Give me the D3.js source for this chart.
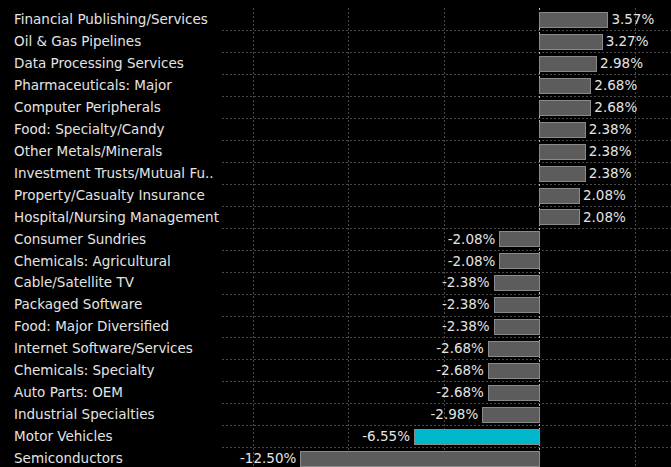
<!DOCTYPE html>
<html><head><meta charset="utf-8">
<script src="https://cdn.jsdelivr.net/npm/d3@7"></script>
<style>
html,body{margin:0;padding:0;background:#000;}
svg{display:block;}
text{font-family:"DejaVu Sans",sans-serif;}
</style></head>
<body>
<svg id="chart" width="671" height="467"></svg>
<script>
const categories = ["Financial Publishing/Services","Oil & Gas Pipelines","Data Processing Services","Pharmaceuticals: Major","Computer Peripherals","Food: Specialty/Candy","Other Metals/Minerals","Investment Trusts/Mutual Fu..","Property/Casualty Insurance","Hospital/Nursing Management","Consumer Sundries","Chemicals: Agricultural","Cable/Satellite TV","Packaged Software","Food: Major Diversified","Internet Software/Services","Chemicals: Specialty","Auto Parts: OEM","Industrial Specialties","Motor Vehicles","Semiconductors"];
const values = [3.57,3.27,2.98,2.68,2.68,2.38,2.38,2.38,2.08,2.08,-2.08,-2.08,-2.38,-2.38,-2.38,-2.68,-2.68,-2.68,-2.98,-6.55,-12.50];
const highlighted = ["Motor Vehicles"];
const xTicks = [-15,-10,-5,0,5];

const W = 671, H = 467;
const svg = d3.select("#chart");
svg.append("rect").attr("width",W).attr("height",H).attr("fill","#000");

const x = d3.scaleLinear().domain([-16.6, 6.9]).range([222, 671]);
const y = d3.scaleBand().domain(categories).range([8.5, 469]).paddingInner(0.33).paddingOuter(0.165);
const step = y.step();

// horizontal dashed gridlines between rows
svg.append("g").selectAll("line").data(categories.slice(1)).join("line")
  .attr("x1", x.range()[0]).attr("x2", W)
  .attr("y1", d => Math.round(y(d) - (step - y.bandwidth())/2) + 0.5)
  .attr("y2", d => Math.round(y(d) - (step - y.bandwidth())/2) + 0.5)
  .attr("stroke", "#4a4a4a").attr("stroke-width", 1).attr("stroke-dasharray", "2,2");

// vertical gridlines
svg.append("g").selectAll("line").data(xTicks).join("line")
  .attr("x1", d => Math.round(x(d)) + 0.5).attr("x2", d => Math.round(x(d)) + 0.5)
  .attr("y1", 8).attr("y2", H)
  .attr("stroke", d => d === 0 ? "#bdbdbd" : "#4a4a4a")
  .attr("stroke-width", 1).attr("stroke-dasharray", "2,2");

// bars
svg.append("g").selectAll("rect").data(values).join("rect")
  .attr("x", d => Math.round(Math.min(x(0), x(d))) + 0.5)
  .attr("width", d => Math.abs(Math.round(x(d)) - Math.round(x(0))))
  .attr("y", (d,i) => Math.round(y(categories[i])) + 0.5)
  .attr("height", Math.round(y.bandwidth()))
  .attr("fill", (d,i) => highlighted.includes(categories[i]) ? "#00b8cc" : "#5c5c5c")
  .attr("stroke", "#8a8a8a").attr("stroke-width", 1);

// category labels
svg.append("g").selectAll("text").data(categories).join("text")
  .attr("x", 14).attr("y", d => y(d) + y.bandwidth()/2)
  .attr("dy", "0.36em").attr("fill", "#e4e4e4").attr("font-size", 13.5)
  .text(d => d);

// value labels
svg.append("g").selectAll("text").data(values).join("text")
  .attr("x", d => d >= 0 ? x(d) + 4 : x(d) - 4)
  .attr("y", (d,i) => y(categories[i]) + y.bandwidth()/2)
  .attr("dy", "0.36em")
  .attr("text-anchor", d => d >= 0 ? "start" : "end")
  .attr("fill", "#e4e4e4").attr("font-size", 13.5)
  .text(d => d.toFixed(2) + "%");
</script>
</body></html>
